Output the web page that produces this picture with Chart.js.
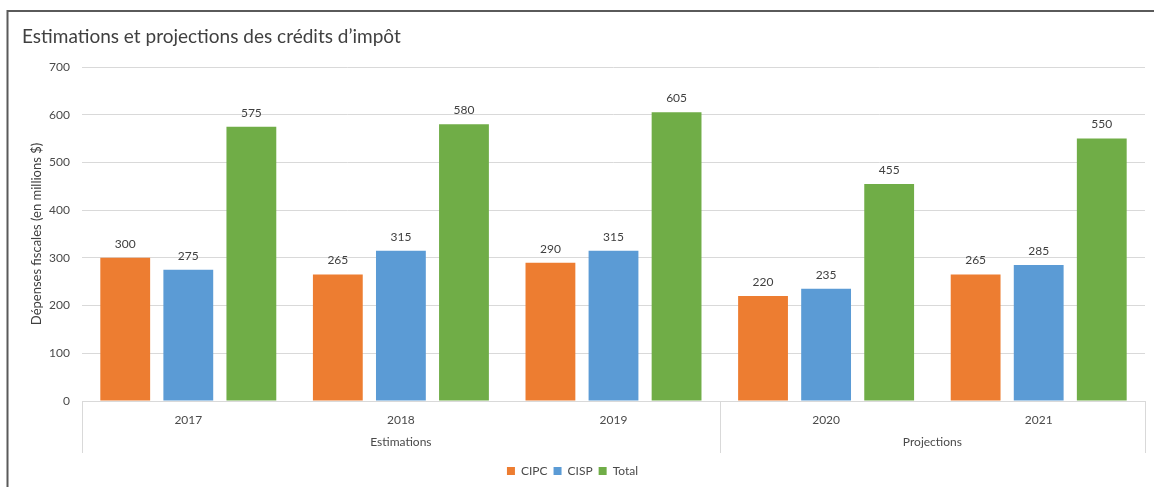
<!DOCTYPE html>
<html>
<head>
<meta charset="utf-8">
<script src="https://cdn.jsdelivr.net/npm/chart.js@4.4.1/dist/chart.umd.min.js"></script>
<style>
  html, body { margin: 0; padding: 0; background: #ffffff; }
  #wrap { position: relative; width: 1154px; height: 487px; }
</style>
</head>
<body>
<div id="wrap"><canvas id="c" width="1154" height="487"></canvas></div>
<script>
const chartTitle = "Estimations et projections des crédits d’impôt";
const yAxisTitle = "Dépenses fiscales (en millions $)";
const years = ["2017", "2018", "2019", "2020", "2021"];
const groups = [
  { label: "Estimations", from: 0, to: 2 },
  { label: "Projections", from: 3, to: 4 }
];
const cipc = [300, 265, 290, 220, 265];
const cisp = [275, 315, 315, 235, 285];
const total = [575, 580, 605, 455, 550];
const seriesNames = ["CIPC", "CISP", "Total"];
const seriesColors = ["#ED7D31", "#5B9BD5", "#70AD47"];

const FONT = "Lato, 'Open Sans', sans-serif";
const TEXT = "#4a4a4a";

const framePlugin = {
  id: 'frame',
  beforeDraw(chart) {
    const ctx = chart.ctx;
    ctx.save();
    ctx.fillStyle = '#ffffff';
    ctx.fillRect(0, 0, chart.width, chart.height);
    ctx.strokeStyle = '#5a5a5a';
    ctx.lineWidth = 2;
    ctx.beginPath();
    ctx.moveTo(7.5, chart.height);
    ctx.lineTo(7.5, 11);
    ctx.lineTo(chart.width, 11);
    ctx.stroke();
    ctx.fillStyle = '#404040';
    ctx.font = "19px " + FONT;
    ctx.textBaseline = 'alphabetic';
    ctx.textAlign = 'left';
    ctx.fillText(chartTitle, 22, 43);
    ctx.restore();
  }
};

const groupPlugin = {
  id: 'groups',
  afterDraw(chart) {
    const ctx = chart.ctx;
    const xs = chart.scales.x;
    const area = chart.chartArea;
    const yTop = area.bottom;
    const yBot = area.bottom + 52;
    ctx.save();
    ctx.strokeStyle = '#d9d9d9';
    ctx.lineWidth = 1;
    const bounds = [area.left];
    groups.forEach(g => {
      if (g.to < years.length - 1) {
        bounds.push((xs.getPixelForValue(g.to) + xs.getPixelForValue(g.to + 1)) / 2);
      }
    });
    bounds.push(area.right);
    bounds.forEach(x => {
      const px = Math.round(x) + 0.5;
      ctx.beginPath();
      ctx.moveTo(px, yTop);
      ctx.lineTo(px, yBot);
      ctx.stroke();
    });
    ctx.fillStyle = TEXT;
    ctx.font = "12px " + FONT;
    ctx.textAlign = 'center';
    ctx.textBaseline = 'middle';
    groups.forEach(g => {
      const cx = (xs.getPixelForValue(g.from) + xs.getPixelForValue(g.to)) / 2;
      ctx.fillText(g.label, cx, area.bottom + 41);
    });
    ctx.restore();
  }
};

const labelPlugin = {
  id: 'valueLabels',
  afterDatasetsDraw(chart) {
    const ctx = chart.ctx;
    ctx.save();
    ctx.fillStyle = '#404040';
    ctx.font = "12px " + FONT;
    ctx.textAlign = 'center';
    ctx.textBaseline = 'bottom';
    chart.data.datasets.forEach((ds, i) => {
      const meta = chart.getDatasetMeta(i);
      meta.data.forEach((bar, j) => {
        ctx.fillText(String(ds.data[j]), bar.x, bar.y - 8);
      });
    });
    ctx.restore();
  }
};

new Chart(document.getElementById('c'), {
  type: 'bar',
  data: {
    labels: years,
    datasets: [
      { label: seriesNames[0], data: cipc, backgroundColor: seriesColors[0] },
      { label: seriesNames[1], data: cisp, backgroundColor: seriesColors[1] },
      { label: seriesNames[2], data: total, backgroundColor: seriesColors[2] }
    ]
  },
  options: {
    responsive: false,
    animation: false,
    devicePixelRatio: 1,
    layout: { padding: { top: 67, left: 0, right: 9, bottom: 0 } },
    datasets: {
      bar: { categoryPercentage: 0.89, barPercentage: 0.79 }
    },
    plugins: {
      legend: {
        position: 'bottom',
        labels: {
          boxWidth: 8, boxHeight: 8, padding: 6,
          color: TEXT, font: { family: FONT, size: 12 }
        }
      },
      tooltip: { enabled: false },
      title: { display: false }
    },
    scales: {
      x: {
        grid: { display: false },
        border: { display: true, color: '#d9d9d9' },
        ticks: { color: TEXT, font: { family: FONT, size: 12 }, padding: 4, maxRotation: 0 },
        afterFit(scale) { scale.height = 58; }
      },
      y: {
        min: 0, max: 700,
        ticks: { stepSize: 100, color: TEXT, font: { family: FONT, size: 12 }, padding: 12 },
        grid: { color: '#d9d9d9', drawTicks: false },
        border: { display: false },
        title: {
          display: true, text: yAxisTitle, color: '#404040',
          font: { family: FONT, size: 13 }, padding: { top: 29, bottom: 0 }
        },
        afterFit(scale) { scale.width = 82; }
      }
    }
  },
  plugins: [framePlugin, groupPlugin, labelPlugin]
});
</script>
</body>
</html>
